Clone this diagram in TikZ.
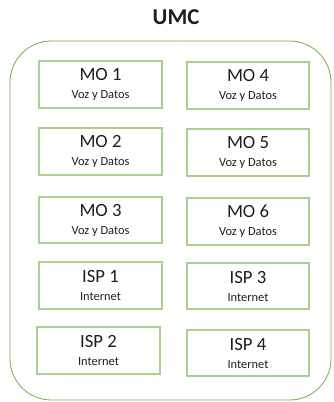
\documentclass[tikz,border=0pt]{standalone}
\usepackage{fontspec}
\setmainfont{Carlito}
\definecolor{framegreen}{RGB}{112,173,71}
\definecolor{boxgreen}{RGB}{169,209,142}
\definecolor{inkgray}{RGB}{30,30,30}
\newcommand{\unitsub}[1]{{\fontsize{9.3}{10}\selectfont #1}}
\tikzset{
  frame/.style={draw=framegreen, semithick, rounded corners=31pt,
    minimum width=240.75pt, minimum height=269.25pt},
  unit/.style={draw=boxgreen, line width=1.4pt, minimum width=92pt,
    minimum height=35pt, align=center, text=inkgray, inner sep=0pt,
    font=\fontsize{14}{13.5}\selectfont},
  tag/.style={font=\bfseries\fontsize{17}{17}\selectfont, text=inkgray}
}
\begin{document}
\begin{tikzpicture}[x=0.75pt,y=-0.75pt]
  \useasboundingbox (0,0) rectangle (333,402);
  \node[tag] (title) at (176,17) {UMC};
  \node[frame] (umc) at (170.5,220.5) {};

  % left column
  \node[unit] (mo1) at (100.5,84.5) {MO 1\\\unitsub{Voz y Datos}};
  \node[unit] (mo2) at (100.5,151.5) {MO 2\\\unitsub{Voz y Datos}};
  \node[unit] (mo3) at (100.5,220) {MO 3\\\unitsub{Voz y Datos}};
  \node[unit] (isp1) at (100.5,285.5) {ISP 1\\\unitsub{Internet}};
  \node[unit] (isp2) at (98.5,350.5) {ISP 2\\\unitsub{Internet}};

  % right column
  \node[unit] (mo4) at (248,85.5) {MO 4\\\unitsub{Voz y Datos}};
  \node[unit] (mo5) at (248,152.5) {MO 5\\\unitsub{Voz y Datos}};
  \node[unit] (mo6) at (248,221.5) {MO 6\\\unitsub{Voz y Datos}};
  \node[unit] (isp3) at (248,286) {ISP 3\\\unitsub{Internet}};
  \node[unit] (isp4) at (248,353) {ISP 4\\\unitsub{Internet}};
\end{tikzpicture}
\end{document}
